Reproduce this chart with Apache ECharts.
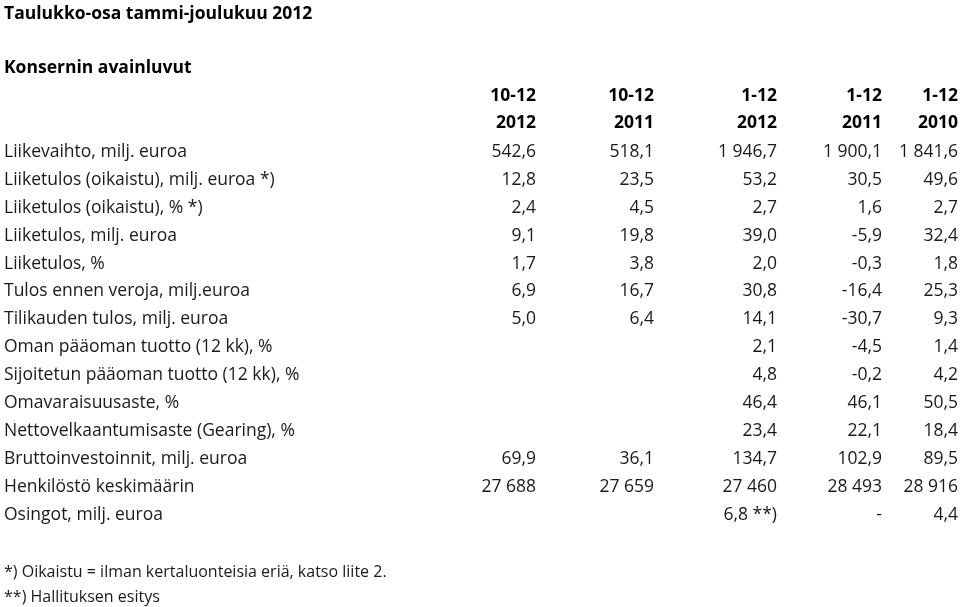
<!DOCTYPE html>
<html><head><meta charset="utf-8">
<script src="https://cdn.jsdelivr.net/npm/echarts@6/dist/echarts.min.js"></script>
<style>html,body{margin:0;background:#fff}#c{width:960px;height:607px}</style>
</head><body><div id="c"></div>
<script>
const title = "Taulukko-osa tammi-joulukuu 2012";
const subtitle = "Konsernin avainluvut";
const headerTop = ["10-12","10-12","1-12","1-12","1-12"];
const headerBottom = ["2012","2011","2012","2011","2010"];
const rowLabels = ["Liikevaihto, milj. euroa","Liiketulos (oikaistu), milj. euroa *)","Liiketulos (oikaistu), % *)","Liiketulos, milj. euroa","Liiketulos, %","Tulos ennen veroja, milj.euroa","Tilikauden tulos, milj. euroa","Oman pääoman tuotto (12 kk), %","Sijoitetun pääoman tuotto (12 kk), %","Omavaraisuusaste, %","Nettovelkaantumisaste (Gearing), %","Bruttoinvestoinnit, milj. euroa","Henkilöstö keskimäärin","Osingot, milj. euroa"];
const col1 = ["542,6","12,8","2,4","9,1","1,7","6,9","5,0","","","","","69,9","27 688",""];
const col2 = ["518,1","23,5","4,5","19,8","3,8","16,7","6,4","","","","","36,1","27 659",""];
const col3 = ["1 946,7","53,2","2,7","39,0","2,0","30,8","14,1","2,1","4,8","46,4","23,4","134,7","27 460","6,8 **)"];
const col4 = ["1 900,1","30,5","1,6","-5,9","-0,3","-16,4","-30,7","-4,5","-0,2","46,1","22,1","102,9","28 493","-"];
const col5 = ["1 841,6","49,6","2,7","32,4","1,8","25,3","9,3","1,4","4,2","50,5","18,4","89,5","28 916","4,4"];
const footnotes = ["*) Oikaistu = ilman kertaluonteisia eriä, katso liite 2.","**) Hallituksen esitys"];

const F = '"Open Sans",sans-serif';
const cols = [col1,col2,col3,col4,col5];
const colX = [536,654,777,882,958];
const rowY0 = 152, rowStep = 27.9;
const els = [];
function t(x,y,s,opt){els.push({type:'text',x:x,y:y,style:Object.assign({text:s,fill:'#1a1a1a',font:'17.5px '+F,textVerticalAlign:'middle'},opt||{})});}
t(4,14,title,{font:'bold 17.5px '+F,fill:'#000'});
t(4,68,subtitle,{font:'bold 17.5px '+F,fill:'#000'});
headerTop.forEach((h,i)=>t(colX[i],96,h,{font:'bold 17.5px '+F,textAlign:'right',fill:'#000'}));
headerBottom.forEach((h,i)=>t(colX[i],123,h,{font:'bold 17.5px '+F,textAlign:'right',fill:'#000'}));
rowLabels.forEach((l,r)=>{
  const y=rowY0+r*rowStep;
  t(4,y,l);
  cols.forEach((c,i)=>{ if(c[r]) t(colX[i],y,c[r],{textAlign:'right'}); });
});
t(4,572,footnotes[0],{font:'16px '+F});
t(4,597,footnotes[1],{font:'16px '+F});
const chart = echarts.init(document.getElementById('c'));
chart.setOption({animation:false,graphic:{elements:els}});
</script></body></html>
